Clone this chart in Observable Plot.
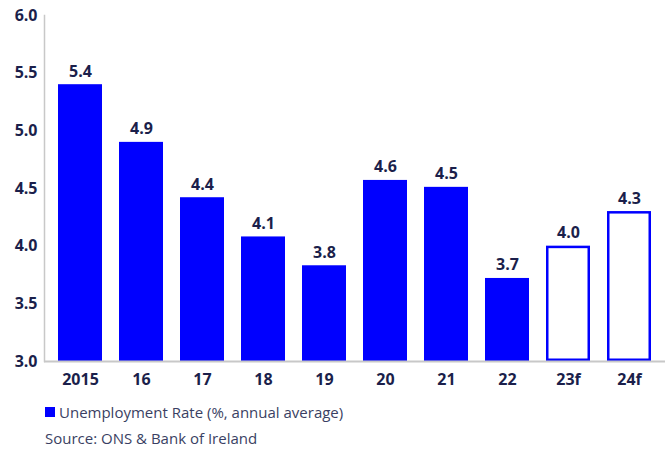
<!DOCTYPE html>
<html><head><meta charset="utf-8">
<script src="https://cdn.jsdelivr.net/npm/d3@7"></script>
<script src="https://cdn.jsdelivr.net/npm/@observablehq/plot@0.6"></script>
<style>
body{margin:0;background:#fff;font-family:"Open Sans",sans-serif;}
#chart svg{display:block;}
.legend{position:relative;height:58px;}
.leg{position:absolute;left:45px;top:9px;font-size:15px;line-height:22px;color:#3a3f63;display:flex;align-items:center;white-space:nowrap;}
.leg .sw{display:inline-block;width:10px;height:10px;background:#0000ff;margin-right:4px;}
.src{position:absolute;left:45px;top:35px;font-size:15px;line-height:22px;color:#3a3f63;white-space:nowrap;}
</style></head><body>
<div id="chart"></div>
<div class="legend"><div class="leg"><span class="sw"></span>Unemployment Rate (%, annual average)</div><div class="src">Source: ONS &amp; Bank of Ireland</div></div>
<script>
const years = ["2015","16","17","18","19","20","21","22","23f","24f"];
const rates = [5.40, 4.90, 4.42, 4.08, 3.83, 4.57, 4.51, 3.72, 4.00, 4.30];
const isForecast = [false,false,false,false,false,false,false,false,true,true];
const yTicks = [3.0,3.5,4.0,4.5,5.0,5.5,6.0];

const data = years.map((y,i)=>({year:y, rate:rates[i], forecast:isForecast[i], label:rates[i].toFixed(1)}));
const navy = "#1b1f4b";
const blue = "#0000ff";

const chart = Plot.plot({
  width: 665, height: 392,
  marginLeft: 44, marginRight: 0, marginTop: 15, marginBottom: 31,
  style: {fontFamily: '"Open Sans", sans-serif', fontSize: "16px", background: "#fff"},
  x: {domain: years, paddingInner: 0.285, paddingOuter: 0.212, label: null},
  y: {domain: [3, 6], ticks: yTicks, label: null},
  marks: [
    Plot.barY(data.filter(d=>!d.forecast), {x:"year", y1: 3, y2:"rate", fill: blue}),
    Plot.barY(data.filter(d=>d.forecast), {x:"year", y1: 3, y2:"rate", fill: "#fff", stroke: blue, strokeWidth: 2.5, inset: 1.25}),
    Plot.frame({anchor: "left", stroke: "#c8c8c8", strokeWidth: 1.5}),
    Plot.ruleY([3], {stroke: "#c8c8c8", strokeWidth: 2}),
    Plot.text(data, {x:"year", y:"rate", text:"label", lineAnchor:"bottom", dy:-8, fill: navy, fontWeight:"bold", fontSize: 16}),
    Plot.axisY({ticks: yTicks, tickFormat: d3.format(".1f"), tickSize: 0, tickPadding: 7, fill: navy, fontWeight: "bold", fontSize: 16, label: null}),
    Plot.axisX({tickSize: 0, tickPadding: 12, fill: navy, fontWeight: "bold", fontSize: 16, label: null})
  ]
});
document.getElementById("chart").appendChild(chart);
</script>
</body></html>
